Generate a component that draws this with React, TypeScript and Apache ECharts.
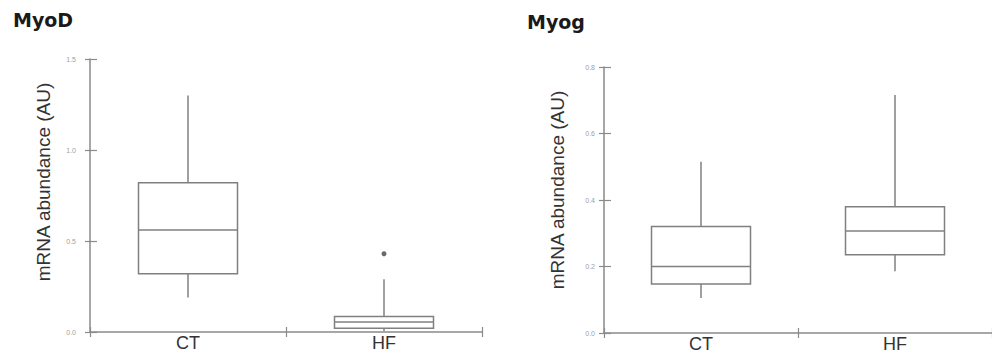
import React, { useEffect, useRef } from "react";
import * as echarts from "echarts";

const categories = ["CT", "HF"];
// [min, Q1, median, Q3, max]
const myodBoxes = [
  [0.19, 0.32, 0.56, 0.82, 1.3],
  [0.005, 0.02, 0.055, 0.085, 0.29],
];
const myodOutliers = [["HF", 0.43]];
const myogBoxes = [
  [0.105, 0.147, 0.2, 0.32, 0.515],
  [0.186, 0.235, 0.307, 0.38, 0.716],
];
const myodTicks = { min: 0, max: 1.5, interval: 0.5 };
const myogTicks = { min: 0, max: 0.8, interval: 0.2 };
const titles = ["MyoD", "Myog"];
const yName = "mRNA abundance (AU)";

const FONT = "'Liberation Sans', Arial, sans-serif";
const TITLE_FONT = "'DejaVu Sans', 'Liberation Sans', sans-serif";
const AXIS = "#8a8a8a";
const BOX = "#808080";
const BOX_W = 99;

function yAxis(gridIndex: number, t: { min: number; max: number; interval: number }, margin: number) {
  const base = {
    type: "value",
    gridIndex,
    min: t.min,
    max: t.max,
    interval: t.interval,
    splitLine: { show: false },
  };
  return [
    {
      ...base,
      axisLine: { show: true, lineStyle: { color: AXIS, width: 1.5 } },
      axisTick: { show: true, length: 5, lineStyle: { color: AXIS, width: 1.2 } },
      axisLabel: {
        fontFamily: FONT,
        fontSize: 7,
        color: "#a0a0a0",
        margin,
        formatter: (v: number) => v.toFixed(1),
      },
    },
    {
      ...base,
      position: "left",
      axisLine: { show: false },
      axisTick: { show: true, inside: true, length: 7, lineStyle: { color: AXIS, width: 1.2 } },
      axisLabel: { show: false },
    },
  ];
}

function xAxes(gridIndex: number) {
  const base = { type: "category", gridIndex, data: categories, boundaryGap: true };
  return [
    {
      ...base,
      axisLine: { show: true, lineStyle: { color: AXIS, width: 1.5 } },
      axisTick: { show: true, length: 5, lineStyle: { color: AXIS, width: 1.2 } },
      axisLabel: { fontFamily: FONT, fontSize: 18, color: "#333", margin: 2 },
    },
    {
      ...base,
      position: "bottom",
      axisLine: { show: false },
      axisTick: { show: true, inside: true, length: 5, lineStyle: { color: AXIS, width: 1.2 } },
      axisLabel: { show: false },
    },
  ];
}

function renderBox(params: any, api: any) {
  const x = api.value(0);
  const lo = api.coord([x, api.value(1)]);
  const q1 = api.coord([x, api.value(2)]);
  const md = api.coord([x, api.value(3)]);
  const q3 = api.coord([x, api.value(4)]);
  const hi = api.coord([x, api.value(5)]);
  const cx = md[0];
  const half = BOX_W / 2;
  const ls = { stroke: BOX, lineWidth: 1.5, fill: null };
  return {
    type: "group",
    children: [
      { type: "line", shape: { x1: cx, y1: hi[1], x2: cx, y2: q3[1] }, style: ls },
      { type: "line", shape: { x1: cx, y1: q1[1], x2: cx, y2: lo[1] }, style: ls },
      {
        type: "rect",
        shape: { x: cx - half, y: q3[1], width: BOX_W, height: q1[1] - q3[1] },
        style: { stroke: BOX, lineWidth: 1.5, fill: "#fff" },
      },
      { type: "line", shape: { x1: cx - half, y1: md[1], x2: cx + half, y2: md[1] }, style: ls },
    ],
  };
}

function boxData(boxes: number[][]) {
  return boxes.map((b, i) => [i, ...b]);
}

export default function App() {
  const ref = useRef<HTMLDivElement>(null);
  useEffect(() => {
    if (!ref.current) return;
    const chart = echarts.init(ref.current, undefined, { renderer: "svg" });
    const titleStyle = { fontFamily: TITLE_FONT, fontSize: 19, fontWeight: "bold", color: "#1a1a1a" };
    const nameStyle = { fontFamily: FONT, fontSize: 19, fill: "#333", align: "center", verticalAlign: "middle" };
    chart.setOption({
      animation: false,
      backgroundColor: "#fff",
      title: [
        { text: titles[0], left: 8, top: 5, textStyle: titleStyle },
        { text: titles[1], left: 522, top: 7, textStyle: titleStyle },
      ],
      graphic: [
        { type: "text", x: 43, y: 182, rotation: Math.PI / 2, style: { text: yName, ...nameStyle } },
        { type: "text", x: 557, y: 190, rotation: Math.PI / 2, style: { text: yName, ...nameStyle } },
      ],
      grid: [
        { left: 90, right: 510, top: 59, bottom: 24 },
        { left: 604, right: -4, top: 67, bottom: 23 },
      ],
      xAxis: [...xAxes(0), ...xAxes(1)],
      yAxis: [...yAxis(0, myodTicks, 14), ...yAxis(1, myogTicks, 9)],
      series: [
        {
          type: "custom",
          xAxisIndex: 0,
          yAxisIndex: 0,
          data: boxData(myodBoxes),
          encode: { x: 0, y: [1, 2, 3, 4, 5] },
          renderItem: renderBox,
        },
        {
          type: "scatter",
          xAxisIndex: 0,
          yAxisIndex: 0,
          data: myodOutliers,
          symbol: "circle",
          symbolSize: 5,
          itemStyle: { color: "#444" },
        },
        {
          type: "custom",
          xAxisIndex: 2,
          yAxisIndex: 2,
          data: boxData(myogBoxes),
          encode: { x: 0, y: [1, 2, 3, 4, 5] },
          renderItem: renderBox,
        },
      ],
    });
    return () => chart.dispose();
  }, []);
  return <div ref={ref} style={{ width: 992, height: 356, position: "absolute", left: 0, top: 0 }} />;
}
